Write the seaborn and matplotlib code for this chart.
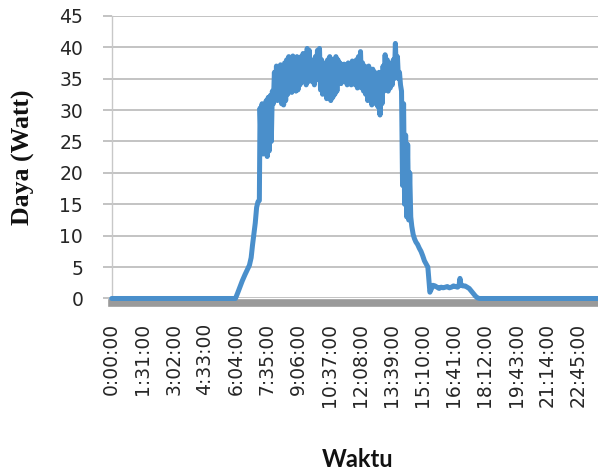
import matplotlib
matplotlib.use("Agg")
import matplotlib.pyplot as plt
import seaborn as sns
import pandas as pd

# time of day in minutes since midnight
minutes = [0, 362, 368, 375, 382, 390, 397, 403, 408, 412, 416, 420, 424, 428, 432,
           434, 437, 440, 443, 446, 449, 452, 455, 458, 461, 464, 467, 470, 473, 476,
           479, 482, 485, 488, 491, 494, 497, 500, 503, 506, 509, 512, 515, 518, 521,
           524, 527, 530, 533, 536, 539, 542, 545, 548, 551, 554, 557, 560, 563, 566,
           569, 572, 575, 578, 581, 584, 587, 590, 593, 596, 599, 602, 605, 608, 611,
           614, 617, 620, 623, 626, 629, 632, 635, 638, 641, 644, 647, 650, 653, 656,
           659, 662, 665, 668, 671, 674, 677, 680, 683, 686, 689, 692, 695, 698, 701,
           704, 707, 710, 713, 716, 719, 722, 725, 728, 731, 734, 737, 740, 743, 746,
           749, 752, 755, 758, 761, 764, 767, 770, 773, 776, 779, 782, 785, 788, 791,
           794, 797, 800, 803, 806, 809, 812, 815, 818, 821, 824, 827, 830, 833, 836,
           839, 842, 845, 848, 851, 854, 857, 860, 863, 866, 869, 872, 875, 878, 882,
           886, 890, 895, 900, 905, 910, 915, 920, 925, 928, 931, 935, 940, 946, 952,
           958, 964, 970, 976, 982, 988, 994, 1000, 1006, 1012, 1016, 1019, 1022, 1028,
           1034, 1040, 1046, 1052, 1058, 1064, 1070, 1076, 1439]

# power in watts
power = [0, 0, 0.8, 1.8, 2.8, 3.8, 4.6, 5.3, 6.5, 8.5, 10.2, 12, 14.5, 15.4, 15.6,
         30.3, 24.5, 31, 23, 30.5, 25.5, 31.5, 22.6, 32, 23.5, 32.3, 25, 33, 31, 36,
         32, 37, 31.5, 36.5, 32.5, 37.2, 31, 36.5, 30.8, 37.5, 31.5, 38, 32.5, 38.5, 33,
         38.3, 32.8, 38.6, 33.5, 38.2, 33, 38.5, 33.2, 37.5, 34, 38.5, 34.5, 39, 35, 38.5,
         34, 39.8, 34.5, 39.5, 35, 38, 34.5, 37.5, 34, 38.5, 34.8, 39.5, 35, 39.8, 33.2,
         38, 32.5, 37.5, 33, 37, 31.8, 38, 32, 38.5, 31.5, 38, 32, 37.5, 32.5, 38.5,
         33, 38, 34.5, 37.5, 34.2, 37, 34.8, 37.3, 34.5, 36.8, 34, 37.5, 34.2, 37, 34,
         37.8, 34.5, 37.5, 34, 38, 33.5, 38.5, 34, 39.3, 33.5, 37.5, 33, 37, 32.5, 36.5,
         31.5, 37, 32, 36, 30.8, 36.5, 32, 36, 31, 35.5, 30.5, 36, 29.2, 35, 31,
         37, 33, 38.8, 34, 38, 33, 37.5, 33.5, 37, 34, 38, 35, 40.6, 36, 38.5,
         35, 36, 34, 33, 18, 31, 15, 26, 13, 24.5, 12.5, 20, 13, 11.5, 10.2,
         9.5, 9, 8.6, 8, 7.5, 6.8, 6, 5.5, 5, 3, 1, 1.5, 2.1, 2, 1.8,
         1.6, 1.8, 1.7, 1.8, 1.9, 1.7, 1.8, 2, 1.9, 1.8, 2, 3.2, 2.1, 2,
         2, 1.8, 1.6, 1.2, 0.8, 0.4, 0.1, 0, 0]

tick_minutes = [0, 91, 182, 273, 364, 455, 546, 637, 728, 819, 910, 1001, 1092, 1183, 1274, 1365]
tick_labels = ["0:00:00", "1:31:00", "3:02:00", "4:33:00", "6:04:00", "7:35:00",
               "9:06:00", "10:37:00", "12:08:00", "13:39:00", "15:10:00", "16:41:00",
               "18:12:00", "19:43:00", "21:14:00", "22:45:00"]
y_ticks = [0, 5, 10, 15, 20, 25, 30, 35, 40, 45]

df = pd.DataFrame({"Waktu": minutes, "Daya": power})

sns.set_style("white")
plt.rcParams["font.family"] = ["DejaVu Sans"]

fig = plt.figure(figsize=(5.98, 4.72), dpi=100)
ax = fig.add_axes([0.1868, 0.3676, 0.823, 0.599])

sns.lineplot(data=df, x="Waktu", y="Daya", ax=ax, color="#4a8fcb",
             linewidth=3.6, zorder=4, clip_on=False, solid_joinstyle="round",
             solid_capstyle="round")

ax.set_xlim(0, 1440)
ax.set_ylim(0, 45)
ax.set_yticks(y_ticks)
ax.set_xticks(tick_minutes)
ax.set_xticklabels(tick_labels)

ax.grid(axis="y", color="#b3b3b3", linewidth=1.1)
ax.grid(axis="x", visible=False)
ax.set_axisbelow(True)

for s in ["top", "right"]:
    ax.spines[s].set_visible(False)
ax.spines["left"].set_color("#c8c8c8")
ax.spines["left"].set_linewidth(1.0)
ax.spines["bottom"].set_color("#9a9a9a")
ax.spines["bottom"].set_linewidth(5.5)
ax.spines["bottom"].set_position(("outward", 3.1))
ax.spines["bottom"].set_zorder(2)

ax.tick_params(axis="y", length=6.5, width=1.1, color="#b3b3b3", pad=14,
               labelsize=13.5, labelcolor="#262626", left=True)
ax.tick_params(axis="x", length=0, pad=14.5, labelsize=13.5, labelcolor="#262626",
               bottom=True, labelrotation=90)
for lab in ax.get_xticklabels():
    lab.set_rotation(90)
    lab.set_ha("center")
    lab.set_va("top")

ax.set_ylabel("Daya (Watt)", fontsize=18.5, fontweight="bold",
              family=["Liberation Serif"], color="#111111")
ax.yaxis.set_label_coords(-0.155, 0.5)
ax.set_xlabel("Waktu", fontsize=17, fontweight="bold", family=["Lato"],
              color="#111111")
ax.xaxis.set_label_coords(0.5, -0.53)

fig.savefig("out.png", dpi=100)
